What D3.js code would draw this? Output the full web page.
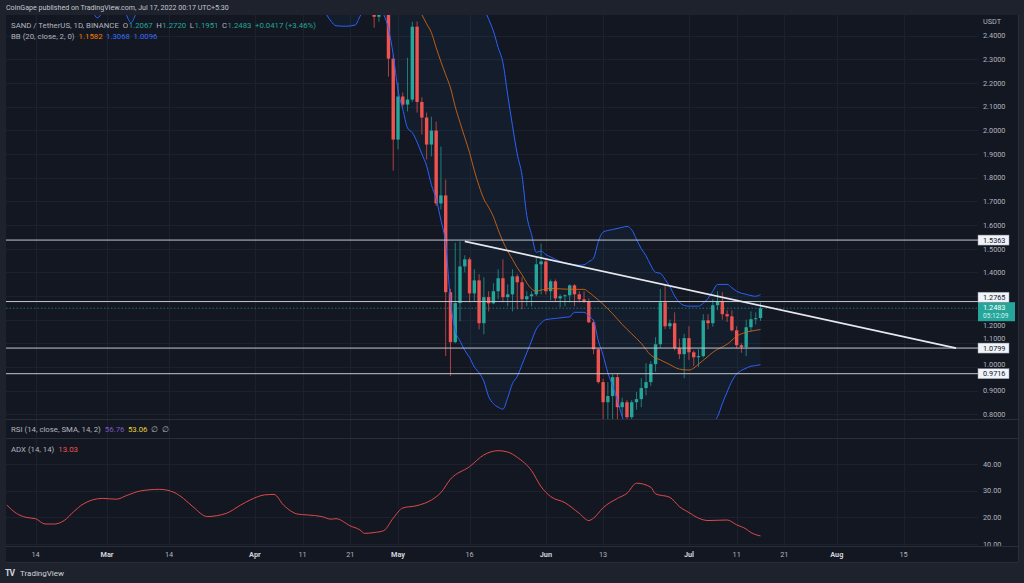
<!DOCTYPE html>
<html>
<head>
<meta charset="utf-8">
<script src="https://cdn.jsdelivr.net/npm/d3@7.9.0/dist/d3.min.js"></script>
<style>
  html, body { margin: 0; padding: 0; background: #1e222d; overflow: hidden; }
  svg { display: block; font-family: Roboto, "Noto Sans", sans-serif; }
</style>
</head>
<body>
<svg id="chart" width="1024" height="583"></svg>
<script>
// ---- candles (daily, SAND/USDT), first visible day then O/H/L/C ----
const firstCandle = "2022-04-26";
const opens  = [2.52,2.48,2.51,2.53,2.303,1.961,2.143,2.109,2.13,2.438,2.12,2.054,1.94,1.999,1.691,1.725,1.316,1.105,1.27,1.425,1.455,1.311,1.366,1.185,1.295,1.269,1.320,1.375,1.295,1.307,1.383,1.358,1.286,1.299,1.307,1.434,1.446,1.320,1.362,1.290,1.299,1.303,1.345,1.307,1.286,1.278,1.189,1.075,0.936,0.851,0.877,0.957,0.830,0.851,0.788,0.851,0.864,0.911,0.936,1.012,1.096,1.273,1.172,1.185,1.079,1.054,1.122,1.062,1.041,1.046,1.197,1.185,1.261,1.278,1.223,1.214,1.155,1.092,1.084,1.168,1.202,1.2067];
const highs  = [2.56,2.55,2.62,2.56,2.32,2.202,2.16,2.307,2.459,2.46,2.14,2.075,2.058,2.037,1.932,1.792,1.33,1.525,1.531,1.472,1.463,1.413,1.392,1.379,1.320,1.354,1.413,1.455,1.349,1.413,1.392,1.379,1.320,1.320,1.468,1.522,1.455,1.37,1.370,1.307,1.307,1.349,1.35,1.320,1.320,1.29,1.20,1.08,0.95,0.936,0.970,0.974,0.87,0.86,0.86,0.894,0.953,1.016,1.024,1.126,1.33,1.345,1.20,1.231,1.12,1.14,1.172,1.07,1.075,1.223,1.223,1.286,1.320,1.316,1.24,1.24,1.172,1.10,1.20,1.235,1.231,1.2720];
const lows   = [2.434,2.459,2.495,2.227,1.830,1.919,2.10,2.08,2.12,2.075,1.982,1.877,1.89,1.68,1.666,1.046,0.962,1.10,1.193,1.40,1.273,1.278,1.159,1.138,1.235,1.265,1.286,1.273,1.257,1.235,1.244,1.244,1.257,1.257,1.299,1.307,1.307,1.282,1.278,1.252,1.257,1.273,1.257,1.273,1.27,1.185,1.054,0.93,0.76,0.76,0.76,0.77,0.79,0.77,0.76,0.82,0.83,0.88,0.92,0.98,1.08,1.16,1.16,1.07,1.033,0.953,1.03,1.003,1.00,1.04,1.159,1.17,1.24,1.20,1.19,1.15,1.08,1.06,1.046,1.15,1.18,1.1951];
const closes = [2.48,2.51,2.53,2.303,1.961,2.143,2.109,2.13,2.438,2.12,2.054,1.94,1.999,1.691,1.725,1.316,1.105,1.27,1.425,1.455,1.311,1.366,1.185,1.295,1.269,1.320,1.375,1.295,1.307,1.383,1.358,1.286,1.299,1.307,1.434,1.446,1.320,1.362,1.290,1.299,1.303,1.345,1.307,1.286,1.278,1.189,1.075,0.936,0.851,0.877,0.957,0.830,0.851,0.788,0.851,0.864,0.911,0.936,1.012,1.096,1.273,1.172,1.185,1.079,1.054,1.122,1.062,1.041,1.046,1.197,1.185,1.261,1.278,1.223,1.214,1.155,1.092,1.084,1.168,1.202,1.206,1.2483];

// ---- Bollinger bands (20, 2) ----
const bbMidDates = ["2022-05-05","2022-05-06","2022-05-07","2022-05-08","2022-05-09","2022-05-10","2022-05-11","2022-05-12","2022-05-13","2022-05-14","2022-05-15","2022-05-16","2022-05-17","2022-05-18","2022-05-19","2022-05-20","2022-05-21","2022-05-22","2022-05-23","2022-05-24","2022-05-25","2022-05-26","2022-05-27","2022-05-28","2022-05-29","2022-05-30","2022-05-31","2022-06-02","2022-06-04","2022-06-07","2022-06-09","2022-06-10","2022-06-11","2022-06-13","2022-06-15","2022-06-17","2022-06-19","2022-06-21","2022-06-23","2022-06-25","2022-06-27","2022-06-29","2022-07-01","2022-07-02","2022-07-03","2022-07-05","2022-07-06","2022-07-08","2022-07-09","2022-07-11","2022-07-13","2022-07-15","2022-07-16"];
const bbMid = [2.53,2.489,2.45,2.413,2.35,2.29,2.235,2.18,2.10,2.033,1.97,1.906,1.83,1.765,1.71,1.675,1.635,1.58,1.53,1.49,1.455,1.42,1.39,1.355,1.33,1.32,1.325,1.332,1.33,1.328,1.328,1.316,1.30,1.265,1.225,1.18,1.14,1.10,1.05,1.03,1.01,0.991,0.987,0.995,1.012,1.045,1.062,1.085,1.096,1.13,1.147,1.155,1.1582];

const bbUpperDates = ["2022-02-08","2022-04-28","2022-05-06","2022-05-11","2022-05-15","2022-05-17","2022-05-18","2022-05-19","2022-05-20","2022-05-21","2022-05-22","2022-05-23","2022-05-24","2022-05-25","2022-05-26","2022-05-27","2022-05-28","2022-05-29","2022-05-30","2022-05-31","2022-06-01","2022-06-02","2022-06-04","2022-06-06","2022-06-08","2022-06-09","2022-06-10","2022-06-11","2022-06-12","2022-06-13","2022-06-15","2022-06-17","2022-06-18","2022-06-19","2022-06-20","2022-06-21","2022-06-22","2022-06-23","2022-06-24","2022-06-25","2022-06-26","2022-06-27","2022-06-28","2022-06-29","2022-06-30","2022-07-01","2022-07-03","2022-07-04","2022-07-05","2022-07-06","2022-07-07","2022-07-09","2022-07-10","2022-07-11","2022-07-13","2022-07-15","2022-07-16"];
const bbUpper = [3.9,3.3,3.2,3.0,2.8,2.65,2.58,2.52,2.47,2.42,2.35,2.286,2.15,2.02,1.90,1.81,1.64,1.56,1.485,1.49,1.475,1.465,1.446,1.436,1.430,1.432,1.445,1.46,1.53,1.57,1.581,1.59,1.594,1.58,1.54,1.50,1.47,1.43,1.40,1.396,1.37,1.34,1.30,1.273,1.26,1.257,1.257,1.27,1.29,1.32,1.349,1.349,1.335,1.32,1.307,1.299,1.3068];

const bbLowerDates = ["2022-02-08","2022-02-20","2022-02-25","2022-02-26","2022-02-27","2022-02-28","2022-03-01","2022-03-04","2022-03-05","2022-03-06","2022-03-07","2022-03-08","2022-04-01","2022-04-15","2022-04-16","2022-04-17","2022-04-18","2022-04-20","2022-04-22","2022-04-23","2022-04-24","2022-04-26","2022-04-27","2022-04-28","2022-04-29","2022-04-30","2022-05-01","2022-05-02","2022-05-03","2022-05-04","2022-05-05","2022-05-06","2022-05-07","2022-05-08","2022-05-09","2022-05-10","2022-05-11","2022-05-12","2022-05-13","2022-05-14","2022-05-15","2022-05-16","2022-05-17","2022-05-18","2022-05-19","2022-05-20","2022-05-21","2022-05-22","2022-05-23","2022-05-24","2022-05-25","2022-05-26","2022-05-27","2022-05-28","2022-05-29","2022-05-30","2022-05-31","2022-06-01","2022-06-03","2022-06-05","2022-06-06","2022-06-07","2022-06-09","2022-06-10","2022-06-11","2022-06-12","2022-06-13","2022-06-14","2022-06-15","2022-06-16","2022-06-17","2022-06-18","2022-06-20","2022-06-23","2022-06-27","2022-07-01","2022-07-04","2022-07-06","2022-07-07","2022-07-08","2022-07-09","2022-07-10","2022-07-11","2022-07-12","2022-07-13","2022-07-14","2022-07-15","2022-07-16"];
const bbLower = [2.62,2.58,2.53,2.50,2.475,2.50,2.54,2.53,2.49,2.455,2.49,2.54,2.65,2.53,2.49,2.46,2.442,2.44,2.445,2.48,2.52,2.55,2.53,2.49,2.43,2.32,2.17,2.09,2.01,1.99,1.95,1.90,1.85,1.77,1.71,1.62,1.52,1.28,1.155,1.11,1.07,1.04,1.00,0.975,0.94,0.875,0.845,0.83,0.822,0.87,0.93,0.96,1.01,1.06,1.11,1.16,1.185,1.20,1.205,1.21,1.212,1.231,1.231,1.215,1.195,1.11,1.05,0.975,0.92,0.86,0.79,0.74,0.69,0.64,0.62,0.65,0.70,0.76,0.79,0.845,0.894,0.94,0.97,0.985,0.995,1.003,1.006,1.0096];

// ---- ADX (14, 14) ----
const adxDates = ["2022-02-08","2022-02-10","2022-02-12","2022-02-14","2022-02-16","2022-02-18","2022-02-20","2022-02-22","2022-02-24","2022-02-28","2022-03-03","2022-03-05","2022-03-08","2022-03-12","2022-03-15","2022-03-17","2022-03-19","2022-03-22","2022-03-26","2022-03-29","2022-03-31","2022-04-03","2022-04-05","2022-04-07","2022-04-10","2022-04-12","2022-04-15","2022-04-17","2022-04-18","2022-04-21","2022-04-23","2022-04-24","2022-04-26","2022-04-28","2022-04-30","2022-05-02","2022-05-05","2022-05-08","2022-05-10","2022-05-12","2022-05-16","2022-05-19","2022-05-22","2022-05-24","2022-05-26","2022-05-29","2022-05-31","2022-06-02","2022-06-05","2022-06-08","2022-06-10","2022-06-11","2022-06-13","2022-06-16","2022-06-18","2022-06-20","2022-06-23","2022-06-24","2022-06-27","2022-06-29","2022-07-01","2022-07-03","2022-07-05","2022-07-09","2022-07-11","2022-07-13","2022-07-14","2022-07-16"];
const adxValues = [24.6,21.5,20.0,19.5,17.5,17.5,18.8,22.1,25.0,27.1,26.8,28.1,29.9,30.5,29.4,27.1,24.0,20.3,21.5,24.6,26.5,28.4,28.6,24.6,21.2,20.9,20.3,19.3,19.5,16.8,15.3,14.0,14.3,15.0,19.7,23.5,24.4,26.5,29.3,34.3,39.0,43.4,45.0,44.5,42.5,37.5,31.5,27.8,25.5,21.5,18.8,19.7,23.6,27.1,29.0,32.8,31.3,28.8,27.5,24.0,21.8,19.7,18.8,19.0,17.2,15.6,14.3,13.03];

// ---- drawings: horizontal levels and the falling trendline ----
const levels = [1.5363, 1.2765, 1.0799, 0.9716];
const trendDates = ["2022-05-15", "2022-08-26"];
const trendPrices = [1.531, 1.08];
const lastPrice = 1.2483;

// ---- axes ----
const priceTicks = d3.range(8, 25).map(v => v / 10);
const adxTicks = [10, 20, 30, 40];
const timeTickDates = ["2022-02-14","2022-03-01","2022-03-14","2022-04-01","2022-04-11","2022-04-21","2022-05-01","2022-05-16","2022-06-01","2022-06-13","2022-07-01","2022-07-11","2022-07-21","2022-08-01","2022-08-15"];
const timeTickLabels = ["14","Mar","14","Apr","11","21","May","16","Jun","13","Jul","11","21","Aug","15"];
const monthLabels = new Set(["Mar","Apr","May","Jun","Jul","Aug"]);

// layout
const plotL = 6, plotR = 978, axisR = 1018;
const mainTop = 15, mainBot = 419;
const rsiTop = 420, rsiBot = 438;
const adxTop = 439, adxBot = 546, timeBot = 562;

const BG = "#131722", GRID = "#1d212d", BORDER = "#2a2e39";
const UP = "#26a69a", DOWN = "#ef5350";
const TXT = "#b2b5be";

const parse = d3.utcParse("%Y-%m-%d");
const x = d3.scaleUtc()
  .domain([parse("2022-05-01"), parse("2022-07-16")])
  .range([398, 760.5]);
const y = d3.scaleLinear().domain([0.8, 2.4]).range([414.3, 35.7]);
const yAdx = d3.scaleLinear().domain([10, 40]).range([544, 464]);

const svg = d3.select("#chart");

// background
svg.append("rect").attr("width", 1024).attr("height", 583).attr("fill", "#1e222d");
svg.append("rect").attr("x", plotL).attr("y", mainTop)
  .attr("width", axisR - plotL).attr("height", timeBot - mainTop).attr("fill", BG);

const defs = svg.append("defs");
defs.append("clipPath").attr("id", "clipMain").append("rect")
  .attr("x", plotL).attr("y", mainTop).attr("width", plotR - plotL).attr("height", mainBot - mainTop);
defs.append("clipPath").attr("id", "clipAdx").append("rect")
  .attr("x", plotL).attr("y", adxTop).attr("width", plotR - plotL).attr("height", adxBot - adxTop);
defs.append("clipPath").attr("id", "clipAdxAxis").append("rect")
  .attr("x", plotR).attr("y", adxTop).attr("width", axisR - plotR).attr("height", adxBot - adxTop);

// grid
const grid = svg.append("g");
grid.selectAll(".vg").data(timeTickDates).join("line")
  .attr("x1", d => Math.round(x(parse(d))) + 0.5).attr("x2", d => Math.round(x(parse(d))) + 0.5)
  .attr("y1", mainTop).attr("y2", adxBot).attr("stroke", GRID);
grid.selectAll(".hg").data(priceTicks).join("line")
  .attr("x1", plotL).attr("x2", plotR)
  .attr("y1", d => Math.round(y(d)) + 0.5).attr("y2", d => Math.round(y(d)) + 0.5)
  .attr("stroke", GRID);
grid.selectAll(".ag").data(adxTicks).join("line")
  .attr("x1", plotL).attr("x2", plotR)
  .attr("y1", d => Math.round(yAdx(d)) + 0.5).attr("y2", d => Math.round(yAdx(d)) + 0.5)
  .attr("stroke", GRID);

// pane separators
const sep = svg.append("g").attr("stroke", BORDER);
[mainBot + 0.5, rsiBot + 0.5, adxBot + 0.5].forEach(v =>
  sep.append("line").attr("x1", plotL).attr("x2", axisR).attr("y1", v).attr("y2", v));
sep.append("line").attr("x1", axisR + 0.5).attr("x2", axisR + 0.5).attr("y1", mainTop).attr("y2", timeBot);
sep.append("line").attr("x1", plotL).attr("x2", axisR).attr("y1", timeBot + 0.5).attr("y2", timeBot + 0.5);

// main pane
const main = svg.append("g").attr("clip-path", "url(#clipMain)");

const upperPts = bbUpperDates.map((d, i) => [x(parse(d)), y(bbUpper[i])]);
const lowerPts = bbLowerDates.map((d, i) => [x(parse(d)), y(bbLower[i])]);
main.append("path")
  .attr("d", d3.line()(upperPts.concat(lowerPts.slice().reverse())) + "Z")
  .attr("fill", "rgba(33,150,243,0.05)");

const candles = opens.map((o, i) => ({
  date: d3.utcDay.offset(parse(firstCandle), i), o, h: highs[i], l: lows[i], c: closes[i]
}));
const cg = main.append("g");
cg.selectAll("line").data(candles).join("line")
  .attr("x1", d => x(d.date)).attr("x2", d => x(d.date))
  .attr("y1", d => y(d.h)).attr("y2", d => y(d.l))
  .attr("stroke", d => d.c >= d.o ? UP : DOWN).attr("stroke-width", 1).attr("opacity", 0.7);
cg.selectAll("rect").data(candles).join("rect")
  .attr("x", d => x(d.date) - 1.7).attr("width", 3.4)
  .attr("y", d => y(Math.max(d.o, d.c)))
  .attr("height", d => Math.max(1, Math.abs(y(d.o) - y(d.c))))
  .attr("fill", d => d.c >= d.o ? UP : DOWN);

const bbLine = d3.line().curve(d3.curveMonotoneX);
main.append("path").attr("d", bbLine(upperPts)).attr("fill", "none").attr("stroke", "#2962ff").attr("stroke-width", 1);
main.append("path").attr("d", bbLine(lowerPts)).attr("fill", "none").attr("stroke", "#2962ff").attr("stroke-width", 1);
main.append("path")
  .attr("d", bbLine(bbMidDates.map((d, i) => [x(parse(d)), y(bbMid[i])])))
  .attr("fill", "none").attr("stroke", "#d9680f").attr("stroke-width", 1).attr("opacity", 0.85);

// last price dotted line
main.append("line").attr("x1", plotL).attr("x2", plotR)
  .attr("y1", y(lastPrice)).attr("y2", y(lastPrice))
  .attr("stroke", UP).attr("stroke-dasharray", "1.5,2").attr("opacity", 0.6);

// drawings
main.selectAll(".lvl").data(levels).join("line")
  .attr("x1", plotL).attr("x2", plotR)
  .attr("y1", d => y(d)).attr("y2", d => y(d))
  .attr("stroke", "#c3c6cd").attr("stroke-width", 1);
main.append("line")
  .attr("x1", x(parse(trendDates[0]))).attr("y1", y(trendPrices[0]))
  .attr("x2", x(parse(trendDates[1]))).attr("y2", y(trendPrices[1]))
  .attr("stroke", "#e6e8ee").attr("stroke-width", 1.7);

// price label boxes (placed first so the tick labels can avoid them)
const fs = 7.3;
const boxH = 10;
const lastTop = y(lastPrice) - 6;
const boxes = [{ top: lastTop, bot: lastTop + 19 }];
const levelBoxes = levels.map(v => {
  let cy = y(v);
  if (cy + boxH / 2 > lastTop && cy - boxH / 2 < lastTop + 19) cy = lastTop - boxH / 2;
  boxes.push({ top: cy - boxH / 2, bot: cy + boxH / 2 });
  return { v, cy };
});

// price axis ticks: nudge labels off the boxes, drop the ones fully covered
svg.append("text").attr("x", 983).attr("y", 24).attr("fill", TXT).attr("font-size", fs).text("USDT");
const tickPos = priceTicks.map(v => {
  let cy = y(v), show = true;
  boxes.forEach(b => {
    if (cy + 4 > b.top && cy - 4 < b.bot) {
      const mid = (b.top + b.bot) / 2;
      if (Math.abs(cy - mid) < 3) show = false;
      else cy = cy < mid ? b.top - 4.2 : b.bot + 4.2;
    }
  });
  return { v, cy, show };
}).filter(d => d.show);
svg.append("g").selectAll("text").data(tickPos).join("text")
  .attr("x", 983).attr("y", d => d.cy).attr("dy", "0.35em")
  .attr("fill", TXT).attr("font-size", fs).text(d => d3.format(".4f")(d.v));

const lab = svg.append("g");
lab.append("rect").attr("x", plotR).attr("y", lastTop).attr("width", 37).attr("height", 19).attr("fill", UP);
lab.append("text").attr("x", 983).attr("y", lastTop + 5.5).attr("dy", "0.35em")
  .attr("fill", "#ffffff").attr("font-size", fs).text(d3.format(".4f")(lastPrice));
lab.append("text").attr("x", 983).attr("y", lastTop + 13.5).attr("dy", "0.35em")
  .attr("fill", "#d6f2ee").attr("font-size", 6.6).text("05:12:09");
levelBoxes.forEach(({ v, cy }) => {
  lab.append("rect").attr("x", plotR).attr("y", cy - boxH / 2).attr("width", 31).attr("height", boxH)
    .attr("fill", "#f0f3fa").attr("stroke", "#9598a1").attr("stroke-width", 0.5);
  lab.append("text").attr("x", 983).attr("y", cy).attr("dy", "0.35em")
    .attr("fill", "#131722").attr("font-size", fs).text(d3.format(".4f")(v));
});

// ADX pane
svg.append("g").attr("clip-path", "url(#clipAdx)").append("path")
  .attr("d", d3.line().curve(d3.curveMonotoneX)
    .x(d => x(parse(d))).y((d, i) => yAdx(adxValues[i]))(adxDates))
  .attr("fill", "none").attr("stroke", "#e04848").attr("stroke-width", 1);
svg.append("g").attr("clip-path", "url(#clipAdxAxis)").selectAll("text").data(adxTicks).join("text")
  .attr("x", 983).attr("y", d => yAdx(d)).attr("dy", "0.35em")
  .attr("fill", TXT).attr("font-size", fs).text(d3.format(".2f"));

// time axis
svg.append("g").selectAll("text").data(timeTickDates).join("text")
  .attr("x", d => x(parse(d))).attr("y", 554).attr("dy", "0.35em")
  .attr("text-anchor", "middle").attr("font-size", fs)
  .attr("font-weight", (d, i) => monthLabels.has(timeTickLabels[i]) ? "bold" : "normal")
  .attr("fill", (d, i) => monthLabels.has(timeTickLabels[i]) ? "#d1d4dc" : TXT)
  .text((d, i) => timeTickLabels[i]);

// legends: pieces at their x from the picture, never overlapping the previous one
function putText(items, yy, size) {
  let end = 0;
  items.forEach(([tx, xx, col, gap]) => {
    const t = svg.append("text").attr("x", Math.max(xx, end + (gap || 0))).attr("y", yy).attr("dy", "0.35em")
      .attr("font-size", size).attr("fill", col).text(tx);
    end = +t.attr("x") + t.node().getComputedTextLength();
  });
}
const lfs = 7.8;
svg.append("text").attr("x", 6).attr("y", 8).attr("dy", "0.35em").attr("font-size", 7.1)
  .attr("fill", "#c3c6ce").text("CoinGape published on TradingView.com, Jul 17, 2022 00:17 UTC+5:30");
putText([
  ["SAND / TetherUS, 1D, BINANCE", 11, TXT],
  ["O", 113, TXT, 4], ["1.2067", 117.5, UP, 0.5],
  ["H", 143, TXT, 3.5], ["1.2720", 148, UP, 0.5],
  ["L", 173, TXT, 3.5], ["1.1951", 176.5, UP, 0.5],
  ["C", 202, TXT, 3.5], ["1.2483", 207, UP, 0.5],
  ["+0.0417 (+3.46%)", 232, UP, 3.5]
], 25, lfs);
putText([
  ["BB (20, close, 2, 0)", 11, TXT],
  ["1.1582", 77, "#f57c00", 4], ["1.3068", 102, "#3b6cf5", 3.5], ["1.0096", 125, "#3b6cf5", 3.5]
], 36, lfs);
putText([
  ["RSI (14, close, SMA, 14, 2)", 11, TXT],
  ["56.76", 98, "#7e57c2", 4], ["53.06", 120, "#e8d03a", 3.5], ["\u2205", 142, TXT, 3.5], ["\u2205", 152, TXT, 3.5]
], 429, lfs);
putText([["ADX (14, 14)", 11, TXT], ["13.03", 54, "#ef5350", 4]], 449, lfs);

// footer logo
svg.append("text").attr("x", 5).attr("y", 573).attr("dy", "0.35em").attr("font-size", 8.5)
  .attr("font-weight", "bold").attr("fill", "#d1d4dc").attr("letter-spacing", -0.8).text("TV");
svg.append("text").attr("x", 20).attr("y", 573).attr("dy", "0.35em").attr("font-size", 8)
  .attr("fill", "#d1d4dc").text("TradingView");
</script>
</body>
</html>
